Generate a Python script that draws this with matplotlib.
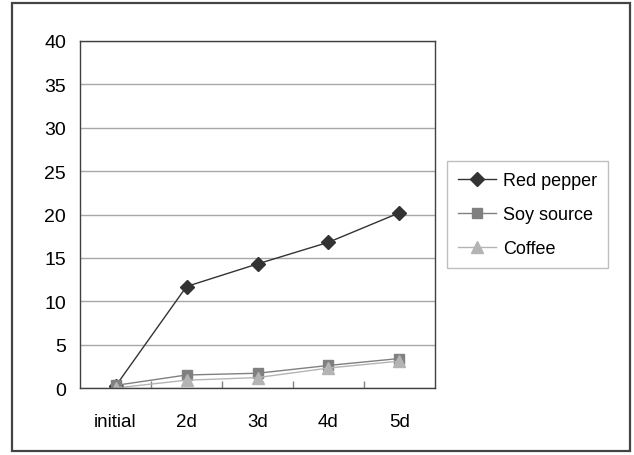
import matplotlib.pyplot as plt
from matplotlib.patches import Rectangle

plt.rcParams['font.family'] = ['Liberation Sans', 'DejaVu Sans']

# data
days = ['initial', '2d', '3d', '4d', '5d']
red_pepper = [0.2, 11.7, 14.3, 16.8, 20.2]
soy_source = [0.3, 1.5, 1.7, 2.6, 3.4]
coffee = [0.0, 0.9, 1.2, 2.3, 3.1]
y_ticks = [0, 5, 10, 15, 20, 25, 30, 35, 40]

series = [
    ('Red pepper', red_pepper, '#333333', 'D', 7.5),
    ('Soy source', soy_source, '#808080', 's', 7.5),
    ('Coffee', coffee, '#b4b4b4', '^', 8.5),
]

fig = plt.figure(figsize=(6.34, 4.56), dpi=100)
ax = fig.add_axes([80 / 634, 1 - 389 / 456, 355 / 634, 347 / 456])

# outer frame of the whole chart
fig.patches.append(Rectangle((12 / 634, 4 / 456), 618 / 634, 448 / 456,
                             transform=fig.transFigure, fill=False,
                             edgecolor='#444444', linewidth=1.6))

x = list(range(len(days)))
for label, vals, color, marker, ms in series:
    ax.plot(x, vals, color=color, marker=marker, markersize=ms,
            linewidth=1.0, label=label, markeredgecolor=color)

ax.set_xlim(-0.5, len(days) - 0.5)
ax.set_ylim(0, 40)
ax.set_yticks(y_ticks)
ax.set_yticklabels([str(t) for t in y_ticks], fontsize=14)
ax.set_xticks(x)
ax.set_xticklabels(days, fontsize=13.5)
ax.tick_params(axis='y', length=0, pad=10)
ax.tick_params(axis='x', which='major', length=0, pad=18)
ax.set_xticks([i + 0.5 for i in range(len(days) - 1)], minor=True)
ax.tick_params(axis='x', which='minor', direction='in', length=5,
               color='#808080', width=1)

ax.grid(axis='y', color='#a8a8a8', linewidth=1.0)
ax.set_axisbelow(True)
for s in ax.spines.values():
    s.set_color('#404040')
    s.set_linewidth(1.0)

leg = ax.legend(loc='upper left', bbox_to_anchor=(447 / 634, 1 - 162 / 456),
                bbox_transform=fig.transFigure, fontsize=13, frameon=True,
                fancybox=False, edgecolor='#b0b0b0', handlelength=2.1,
                labelspacing=0.95, borderpad=0.6, handletextpad=0.4,
                borderaxespad=0)
leg.get_frame().set_linewidth(1.0)

fig.savefig('out.png', dpi=100)
